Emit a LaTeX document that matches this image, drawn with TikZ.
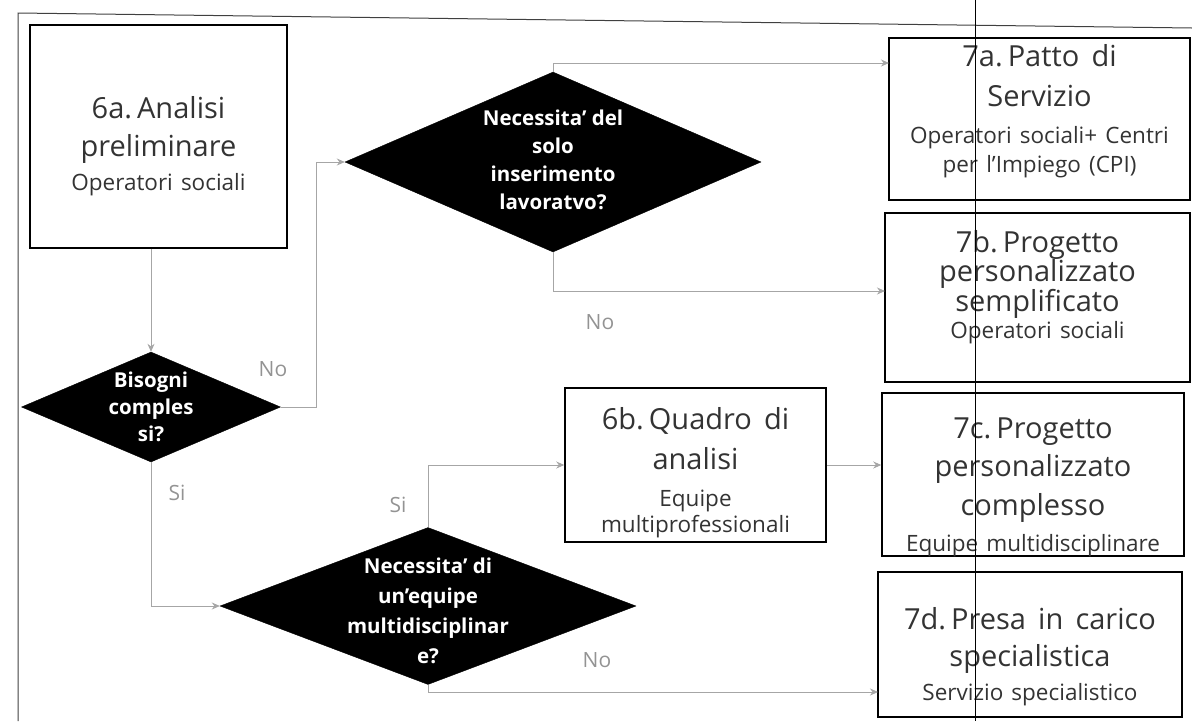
\documentclass[tikz,border=0pt]{standalone}
\usepackage{fontspec}
\setmainfont{Open Sans}
\usetikzlibrary{shapes.geometric,arrows.meta,calc}
\newcommand\bigt[1][38]{\fontsize{29}{#1}\selectfont\spaceskip=.42em\relax\ignorespaces}
\newcommand\smallt[1][30]{\fontsize{22.5}{#1}\selectfont\spaceskip=.36em\relax\ignorespaces}
\newcommand\diat[1][27]{\fontsize{20.5}{#1}\selectfont\bfseries}
\newcommand\labt{\fontsize{21}{25}\selectfont}
\begin{document}
\begin{tikzpicture}[x=1pt,y=-1pt,
  box/.style={draw=black, line width=1.5pt, rectangle, inner sep=0pt},
  boxtext/.style={align=center, inner sep=0pt, text=black!80},
  dia/.style={diamond, fill=black, draw=black, inner sep=0pt},
  diatext/.style={text=white, align=center, inner sep=0pt},
  conn/.style={draw=gray!70, line width=0.8pt, -{Stealth[length=8pt,width=7pt]}},
  lab/.style={text=gray!85, inner sep=0pt, font=\labt},
  frame/.style={draw=black!75, line width=1pt}]
\useasboundingbox (0,0) rectangle (1192,721);

% outer frame of the scan
\coordinate (fa) at (18,721);
\coordinate (fb) at (18,13);
\coordinate (fc) at (1192,28);
\draw[frame] (fa) -- (fb) -- (fc);

% boxes
\node[box, minimum width=257pt, minimum height=223pt] (b6a) at (158.5,136.5) {};
\node[boxtext, text width=250pt] (t6a) at (158.5,146)
  {\bigt[38]6a. Analisi\\preliminare\par\smallt[34]Operatori sociali\par};

\node[box, minimum width=301pt, minimum height=162pt] (b7a) at (1039.5,119) {};
\node[boxtext, text width=296pt] (t7a) at (1039.5,111.5)
  {\bigt[40]7a. Patto di\\Servizio\par\vspace{8pt}\smallt[29]Operatori sociali+ Centri\\per l'Impiego (CPI)\par};

\node[box, minimum width=305pt, minimum height=169pt] (b7b) at (1037.5,297.5) {};
\node[boxtext, text width=300pt] (t7b) at (1037.5,287)
  {\bigt[29.5]7b. Progetto\\personalizzato\\semplificato\par\smallt[27]Operatori sociali\par};

\node[box, minimum width=261pt, minimum height=154pt] (b6b) at (695.5,465) {};
\node[boxtext, text width=256pt] (t6b) at (695.5,473)
  {\bigt[40]6b. Quadro di\\analisi\par\vspace{11pt}\smallt[26]Equipe\\multiprofessionali\par};

\node[box, minimum width=302pt, minimum height=163pt] (b7c) at (1033,474.5) {};
\node[boxtext, text width=298pt] (t7c) at (1033,487)
  {\bigt[38.5]7c. Progetto\\personalizzato\\complesso\par\smallt[36]Equipe multidisciplinare\par};

\node[box, minimum width=304pt, minimum height=145pt] (b7d) at (1030,644.5) {};
\node[boxtext, text width=300pt] (t7d) at (1030,656.5)
  {\bigt[37]7d. Presa in carico\\specialistica\par\smallt[34]Servizio specialistico\par};

% decisions
\node[dia, minimum width=259pt, minimum height=110pt] (d1) at (151,407) {};
\node[diatext, font={\diat[27]}] (d1t) at (d1.center) {Bisogni\\comples\\si?};
\node[dia, minimum width=416pt, minimum height=180pt] (d2) at (553,162) {};
\node[diatext, font={\diat[28]}] (d2t) at (553,160) {Necessita' del\\solo\\inserimento\\lavoratvo?};
\node[dia, minimum width=416pt, minimum height=157pt] (d3) at (428,606) {};
\node[diatext, font={\diat[30]}] (d3t) at (428,611) {Necessita' di\\un'equipe\\multidisciplinar\\e?};

% connectors
\coordinate (e7a) at (889,63);
\coordinate (e7b) at (885,291);
\coordinate (e7d) at (878,692);
\draw[conn] (b6a.south -| d1.north) -- (d1.north);
\draw[conn] (d1.east) -- ++(36,0) |- (d2.west);
\draw[conn] (d2.north) |- (e7a);
\draw[conn] (d2.south) |- (e7b);
\draw[conn] (d1.south) |- (d3.west);
\draw[conn] (d3.north) |- (b6b.west);
\draw[conn] (b6b.east) -- (b6b.east -| b7c.west);
\draw[conn] (d3.south) |- (e7d);

% labels
\node[lab] (n1) at (273,369) {No};
\node[lab] (s1) at (177,493) {Si};
\node[lab] (n2) at (600,322) {No};
\node[lab] (s2) at (398,505) {Si};
\node[lab] (n3) at (597,660) {No};

% fold line of the scan
\coordinate (ga) at (975,0);
\coordinate (gb) at (975,721);
\draw[black, line width=0.8pt] (ga) -- (gb);
\end{tikzpicture}
\end{document}
